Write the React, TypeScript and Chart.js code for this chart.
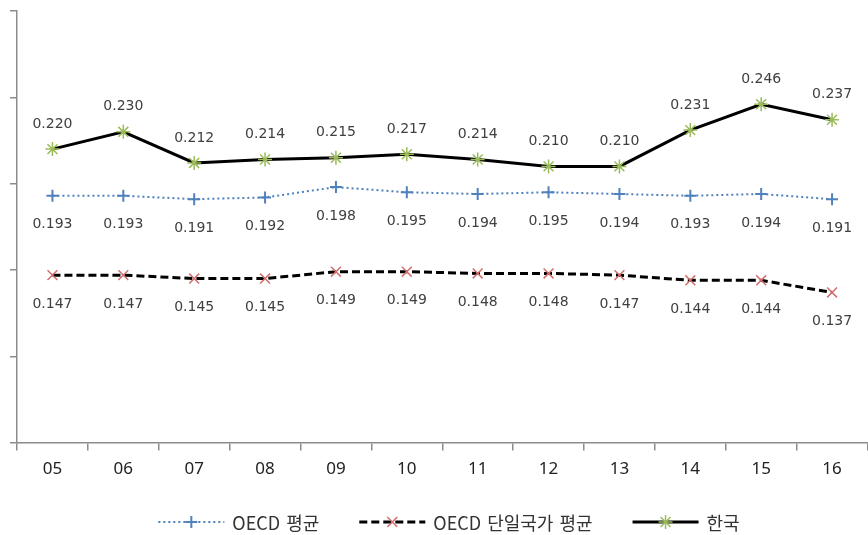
import React, { useEffect, useRef } from "react";
import { Chart, registerables } from "chart.js";

Chart.register(...registerables);

// Years (20xx) along the x axis
const years = ["05", "06", "07", "08", "09", "10", "11", "12", "13", "14", "15", "16"];

// Series values
const oecdAverage = [0.193, 0.193, 0.191, 0.192, 0.198, 0.195, 0.194, 0.195, 0.194, 0.193, 0.194, 0.191];
const oecdSingleAverage = [0.147, 0.147, 0.145, 0.145, 0.149, 0.149, 0.148, 0.148, 0.147, 0.144, 0.144, 0.137];
const korea = [0.22, 0.23, 0.212, 0.214, 0.215, 0.217, 0.214, 0.21, 0.21, 0.231, 0.246, 0.237];

const seriesNames = ["OECD 평균", "OECD 단일국가 평균", "한국"];

// Value axis range (labels hidden, tick marks only)
const yMin = 0.05;
const yMax = 0.3;
const yStep = 0.05;

const AXIS_COLOR = "#8c8c8c";
const VIEW_W = 868;
const VIEW_H = 535;
// canvas is a little wider than the view so the x axis runs to the right edge
const CANVAS_W = 876;

function drawMarker(ctx: CanvasRenderingContext2D, style: string, x: number, y: number, r: number) {
  ctx.beginPath();
  if (style === "cross" || style === "star") {
    ctx.moveTo(x - r, y);
    ctx.lineTo(x + r, y);
    ctx.moveTo(x, y - r);
    ctx.lineTo(x, y + r);
  }
  if (style === "crossRot" || style === "star") {
    const d = r * Math.SQRT1_2;
    ctx.moveTo(x - d, y - d);
    ctx.lineTo(x + d, y + d);
    ctx.moveTo(x - d, y + d);
    ctx.lineTo(x + d, y - d);
  }
  ctx.stroke();
}

// Value labels above / below each point
const valueLabels = {
  id: "valueLabels",
  afterDatasetsDraw(chart: any) {
    const ctx: CanvasRenderingContext2D = chart.ctx;
    ctx.save();
    ctx.font = "14px 'DejaVu Sans'";
    ctx.fillStyle = "#404040";
    ctx.textAlign = "center";
    ctx.textBaseline = "middle";
    chart.data.datasets.forEach((ds: any, i: number) => {
      const meta = chart.getDatasetMeta(i);
      const dy = ds.labelAbove ? -25 : 29;
      meta.data.forEach((pt: any, j: number) => {
        ctx.fillText(Number(ds.data[j]).toFixed(3), pt.x, pt.y + dy);
      });
    });
    ctx.restore();
  },
};

// Legend with a line sample and centred marker for each series
const lineLegend = {
  id: "lineLegend",
  afterDraw(chart: any) {
    const ctx: any = chart.ctx;
    const y = chart.height - 13;
    const sampleLen = 66;
    const textGap = 8;
    const itemGap = 40;
    ctx.save();
    ctx.font = "18px 'Noto Sans CJK KR'";
    ctx.wordSpacing = "2px";
    ctx.textBaseline = "middle";
    ctx.textAlign = "left";
    const dss = chart.data.datasets;
    const widths = dss.map((ds: any) => sampleLen + textGap + ctx.measureText(ds.label).width);
    const total = widths.reduce((a: number, b: number) => a + b, 0) + itemGap * (dss.length - 1);
    let x = 449 - total / 2;
    dss.forEach((ds: any, i: number) => {
      ctx.save();
      ctx.strokeStyle = ds.borderColor;
      ctx.lineWidth = ds.borderWidth;
      ctx.setLineDash(ds.borderDash || []);
      ctx.beginPath();
      ctx.moveTo(x, y);
      ctx.lineTo(x + sampleLen, y);
      ctx.stroke();
      ctx.setLineDash([]);
      ctx.strokeStyle = ds.pointBorderColor;
      ctx.lineWidth = ds.pointBorderWidth;
      drawMarker(ctx, ds.pointStyle, x + sampleLen / 2, y, ds.pointRadius);
      ctx.restore();
      ctx.fillStyle = "#333333";
      ctx.fillText(ds.label, x + sampleLen + textGap, y + 1);
      x += widths[i] + itemGap;
    });
    ctx.restore();
  },
};

export default function App() {
  const canvasRef = useRef<HTMLCanvasElement | null>(null);

  useEffect(() => {
    document.body.style.margin = "0";
    const canvas = canvasRef.current;
    if (!canvas) return;
    const chart = new Chart(canvas, {
      type: "line",
      data: {
        labels: years,
        datasets: [
          {
            label: seriesNames[0],
            data: oecdAverage,
            borderColor: "#4F81BD",
            borderWidth: 2,
            borderDash: [2, 3],
            pointStyle: "cross",
            pointRadius: 6,
            pointBorderColor: "#4F81BD",
            pointBorderWidth: 2,
            pointBackgroundColor: "#4F81BD",
            tension: 0,
            fill: false,
            labelAbove: false,
          } as any,
          {
            label: seriesNames[1],
            data: oecdSingleAverage,
            borderColor: "#000000",
            borderWidth: 3,
            borderDash: [8, 4],
            pointStyle: "crossRot",
            pointRadius: 7,
            pointBorderColor: "#D0706E",
            pointBorderWidth: 1.5,
            pointBackgroundColor: "#D0706E",
            tension: 0,
            fill: false,
            labelAbove: false,
          } as any,
          {
            label: seriesNames[2],
            data: korea,
            borderColor: "#000000",
            borderWidth: 3,
            pointStyle: "star",
            pointRadius: 7,
            pointBorderColor: "#9BBB59",
            pointBorderWidth: 1.5,
            pointBackgroundColor: "#9BBB59",
            tension: 0,
            fill: false,
            labelAbove: true,
          } as any,
        ],
      },
      options: {
        responsive: false,
        devicePixelRatio: 1,
        animation: false,
        layout: { padding: { left: 10, top: 11, right: 0, bottom: 48 } },
        plugins: {
          legend: { display: false },
          tooltip: { enabled: false },
        },
        scales: {
          x: {
            type: "category",
            offset: true,
            border: { display: true, color: AXIS_COLOR, width: 1.5 },
            grid: {
              display: true,
              offset: true,
              drawOnChartArea: false,
              drawTicks: true,
              tickLength: 8,
              color: AXIS_COLOR,
              lineWidth: 1.5,
            },
            ticks: {
              color: "#222222",
              font: { family: "'Noto Sans'", size: 17 },
              padding: 8,
              maxRotation: 0,
            },
          },
          y: {
            min: yMin,
            max: yMax,
            border: { display: true, color: AXIS_COLOR, width: 1.5 },
            grid: {
              display: true,
              drawOnChartArea: false,
              drawTicks: true,
              tickLength: 7,
              color: AXIS_COLOR,
              lineWidth: 1.5,
            },
            ticks: { display: false, stepSize: yStep },
          },
        },
      },
      plugins: [valueLabels, lineLegend],
    });
    return () => chart.destroy();
  }, []);

  return (
    <div style={{ width: VIEW_W, height: VIEW_H, overflow: "hidden" }}>
      <canvas ref={canvasRef} width={CANVAS_W} height={VIEW_H} />
    </div>
  );
}
